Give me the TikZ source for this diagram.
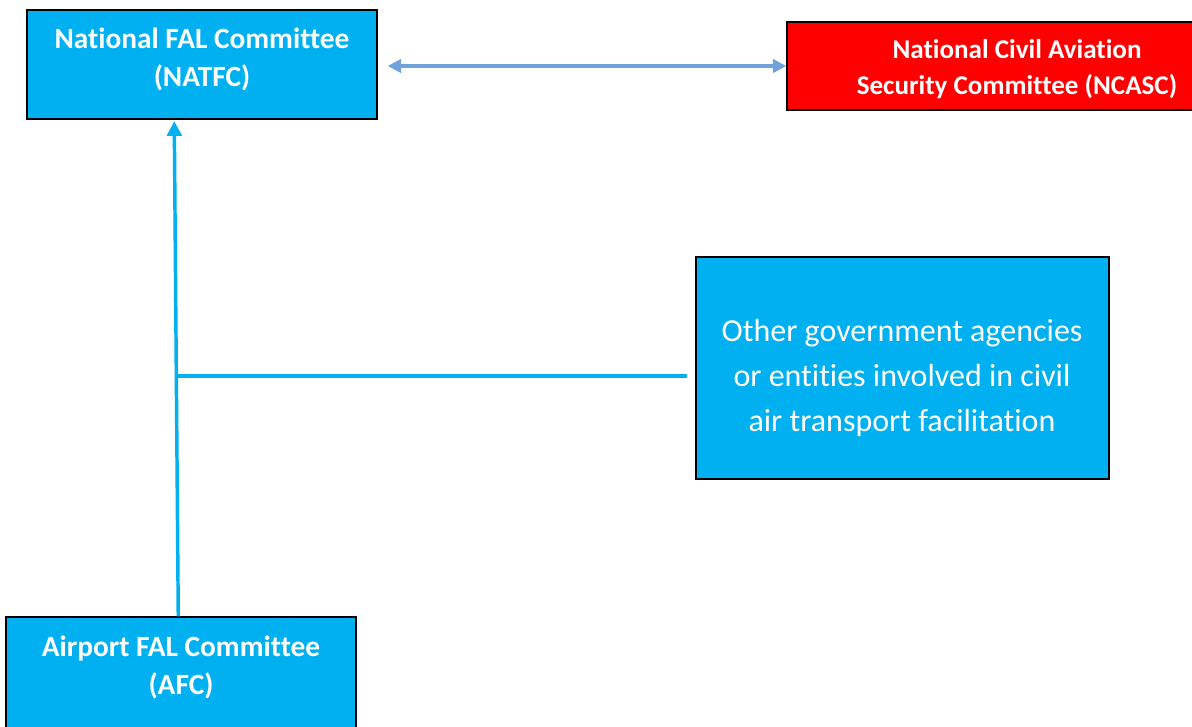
\documentclass[tikz,border=0pt]{standalone}
\usepackage{fontspec}
\setmainfont[Ligatures=NoCommon]{Carlito}
\usetikzlibrary{arrows.meta,calc}
\definecolor{falblue}{RGB}{0,176,240}
\definecolor{ncascred}{RGB}{255,0,0}
\definecolor{linkblue}{RGB}{114,162,218}

\begin{document}
\begin{tikzpicture}[x=0.75pt, y=-0.75pt, every text node part/.style={align=center},
    falbox/.style={fill=falblue, draw=black, line width=1.1pt},
    boldtext/.style={text=white, font=\fontsize{22}{28.5}\selectfont\bfseries},
    plaintext/.style={text=white, font=\fontsize{24}{33.75}\selectfont},
    feed/.style={draw=falblue, line width=2.6pt},
    link/.style={draw=linkblue, line width=2.4pt}]

	\useasboundingbox (0,0) rectangle (1192,726);
	\clip (0,0) rectangle (1192,726);

	\node (natfc) at (202, 64.5) [falbox, minimum width=262.5pt, minimum height=81.75pt] {};
	\node (natfctext) at (202, 59) [boldtext] {National FAL Committee\\(NATFC)};

	\node (ncasc) at (1017, 66) [fill=ncascred, draw=black, line width=1.1pt, minimum width=345pt, minimum height=66pt] {};
	\node (ncasctext) at (1017, 69) [boldtext, font=\fontsize{20.3}{27}\selectfont\bfseries] {National Civil Aviation\\Security Committee (NCASC)};

	\node (other) at (902.5, 368) [falbox, minimum width=309.75pt, minimum height=166.5pt] {};
	\node (othertext) at (902, 378) [plaintext] {Other government agencies\\or entities involved in civil\\air transport facilitation};

	\node (afc) at (181, 673.5) [falbox, minimum width=262.5pt, minimum height=84.75pt] {};
	\node (afctext) at (181, 667) [boldtext] {Airport FAL Committee\\(AFC)};

	\coordinate (tap) at (177, 376);

	\draw[feed, -{Triangle[width=11pt, length=11pt]}] ($(afc.north west)+(173,0)$) -- ($(natfc.south west)+(148,1.5)$);
	\draw[feed] (tap) -- ($(other.west)+(-8,8)$);
	\draw[link, {Triangle[width=10pt, length=10pt]}-{Triangle[width=10pt, length=10pt]}] ($(natfc.east |- ncasc.west)+(10,0)$) -- (ncasc.west);

\end{tikzpicture}
\end{document}
